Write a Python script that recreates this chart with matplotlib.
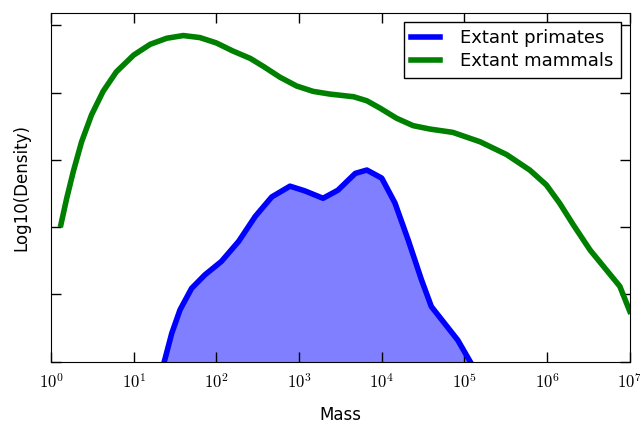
import matplotlib
matplotlib.use("Agg")
import matplotlib.pyplot as plt
import numpy as np

plt.rcParams["mathtext.fontset"] = "cm"

# log10(mass) and log10(density)
mammal_logm = [0.12, 0.19, 0.27, 0.37, 0.49, 0.63, 0.79, 1.00, 1.20, 1.40, 1.60,
               1.80, 2.00, 2.20, 2.41, 2.57, 2.77, 2.97, 3.17, 3.37, 3.66, 3.82,
               3.98, 4.18, 4.38, 4.58, 4.86, 5.19, 5.51, 5.79, 5.99, 6.15, 6.32,
               6.52, 6.72, 6.88, 7.0]
mammal_dens = [-3.96, -3.57, -3.17, -2.73, -2.33, -1.98, -1.69, -1.44, -1.28, -1.19, -1.15,
               -1.18, -1.26, -1.38, -1.49, -1.61, -1.77, -1.90, -1.98, -2.02, -2.06, -2.12,
               -2.23, -2.38, -2.49, -2.54, -2.59, -2.73, -2.92, -3.15, -3.37, -3.64, -3.97,
               -4.34, -4.64, -4.88, -5.25]

primate_logm = [1.37, 1.46, 1.56, 1.70, 1.86, 2.06, 2.27, 2.47, 2.67, 2.89, 3.07,
                3.29, 3.47, 3.68, 3.82, 4.00, 4.16, 4.32, 4.48, 4.60, 4.76, 4.92,
                5.07]
primate_dens = [-6.0, -5.58, -5.23, -4.91, -4.71, -4.51, -4.21, -3.84, -3.55, -3.39, -3.46,
                -3.57, -3.45, -3.20, -3.15, -3.27, -3.64, -4.19, -4.78, -5.18, -5.43, -5.68,
                -6.0]

y_bottom = -6.0

fig = plt.figure(figsize=(6.4, 4.23), dpi=100)
ax = fig.add_axes([0.0797, 0.145, 0.9043, 0.825])

pm = 10 ** np.array(primate_logm)
mm = 10 ** np.array(mammal_logm)

ax.fill_between(pm, primate_dens, y_bottom, color="blue", alpha=0.5, lw=0)
ax.plot(pm, primate_dens, color="blue", lw=4, solid_joinstyle="round",
        label="Extant primates")
ax.plot(mm, mammal_dens, color="green", lw=4, solid_joinstyle="round",
        label="Extant mammals")

ax.set_xscale("log")
ax.set_xlim(1, 1e7)
ax.set_ylim(y_bottom, -0.81)
ax.set_xticks([10 ** k for k in range(8)])
ax.set_xticklabels([r"$10^{%d}$" % k for k in range(8)], fontsize=12)
ax.minorticks_off()
ax.set_yticks([-6, -5, -4, -3, -2, -1])
ax.set_yticklabels([])
ax.tick_params(direction="in", length=7.5, width=1, top=True, right=True, pad=8)

ax.set_xlabel("Mass", fontsize=12, labelpad=10)
ax.set_ylabel("Log10(Density)", fontsize=12, labelpad=7)

leg = ax.legend(loc="upper right", fontsize=13, fancybox=False, framealpha=1,
                edgecolor="black", handlelength=1.6, handletextpad=1.1,
                borderaxespad=0.5, labelspacing=0.3)
leg.get_frame().set_linewidth(1)

fig.savefig("out.png", dpi=100)
